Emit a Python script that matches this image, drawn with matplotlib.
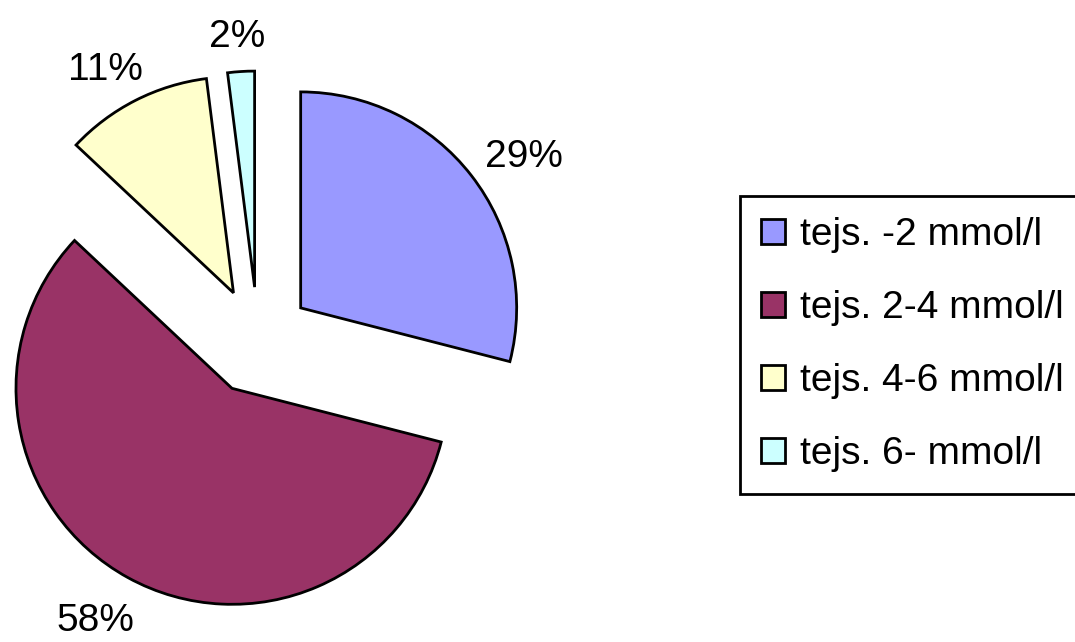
import matplotlib
matplotlib.use('Agg')
import matplotlib.pyplot as plt
import numpy as np

plt.rcParams['font.family'] = ['Liberation Sans', 'DejaVu Sans']

# data
labels = ['tejs. -2 mmol/l', 'tejs. 2-4 mmol/l', 'tejs. 4-6 mmol/l', 'tejs. 6- mmol/l']
values = [29, 58, 11, 2]
colors = ['#9999FF', '#993366', '#FFFFCC', '#CCFFFF']

W, H = 1075, 642
fig = plt.figure(figsize=(W / 100, H / 100), dpi=100)
ax = fig.add_axes([0, 0, 1, 1])

wedges, texts, autotexts = ax.pie(values, colors=colors, startangle=90, counterclock=False,
                                  explode=[0.25] * len(values), autopct='%1.0f%%',
                                  pctdistance=1.2,
                                  wedgeprops=dict(edgecolor='black', linewidth=2),
                                  textprops=dict(fontsize=28, color='black'))

# map data units to pixels: pie centre at (258, 341) px, radius 216 px
r_px, cx, cy = 216, 258, 341
ax.set_xlim(-cx / r_px, (W - cx) / r_px)
ax.set_ylim((cy - H) / r_px, cy / r_px)
ax.set_aspect('auto')
ax.axis('off')

# Excel-like label placement: box just outside the arc, pushed outward by its size
fig.canvas.draw()
renderer = fig.canvas.get_renderer()
for w, t in zip(wedges, autotexts):
    ang = np.deg2rad((w.theta1 + w.theta2) / 2)
    bb = t.get_window_extent(renderer)
    tw, th = bb.width / r_px, 0.75 * bb.height / r_px
    x0, y0 = w.center
    x = x0 + 1.13 * np.cos(ang) + np.cos(ang) * tw / 2
    y = y0 + 1.13 * np.sin(ang) + np.sin(ang) * th / 2 - 0.03
    t.set_position((x, y))
    t.set_ha('center')
    t.set_va('center')

leg = fig.legend(wedges, labels, loc='upper left', bbox_to_anchor=(740 / W, 1 - 196 / H),
                 fontsize=28, frameon=True, fancybox=False, edgecolor='black', framealpha=1,
                 handlelength=0.6, handleheight=0.6, handletextpad=0.4,
                 labelspacing=0.95, borderpad=0.55, borderaxespad=0)
leg.get_frame().set_linewidth(2)

fig.savefig('out.png', dpi=100)
